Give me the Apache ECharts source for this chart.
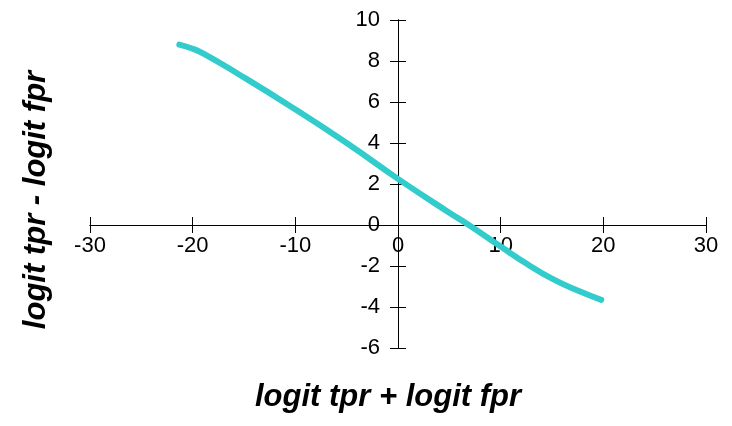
<!DOCTYPE html>
<html>
<head>
<meta charset="utf-8">
<script src="https://cdn.jsdelivr.net/npm/echarts@6/dist/echarts.min.js"></script>
<style>
  html, body { margin: 0; padding: 0; background: #ffffff; }
  #chart { width: 732px; height: 426px; }
</style>
</head>
<body>
<div id="chart"></div>
<script>
// Sum of logits (x) against difference of logits (y) along the curve
const sumLogit  = [-21.3, -20, -18.9, -15.6, -10.6, -5, 0, 5, 6.9, 10, 12.5, 15, 17.5, 19.8];
const diffLogit = [8.8, 8.6, 8.35, 7.38, 5.83, 4.0, 2.25, 0.6, 0, -1.05, -1.88, -2.62, -3.2, -3.65];

const xTitle = 'logit tpr + logit fpr';
const yTitle = 'logit tpr - logit fpr';

const X_MIN = -30, X_MAX = 30, X_STEP = 10;
const Y_MIN = -6, Y_MAX = 10, Y_STEP = 2;

const points = sumLogit.map((x, i) => [x, diffLogit[i]]);

// Plot area
const GRID = { left: 90, top: 20, width: 616, height: 328 };
// Pixel distance of the zero lines from each grid edge
const zeroFromBottom = GRID.height * (0 - Y_MIN) / (Y_MAX - Y_MIN);
const zeroFromTop = GRID.height - zeroFromBottom;
const zeroFromLeft = GRID.width * (0 - X_MIN) / (X_MAX - X_MIN);
const zeroFromRight = GRID.width - zeroFromLeft;

const chart = echarts.init(document.getElementById('chart'), null, { renderer: 'canvas' });

const fontFamily = '"Liberation Sans", Arial, sans-serif';
const lineStyle = { color: '#000000', width: 1 };

// Each axis is drawn twice, from opposite sides, pulled in to the zero line,
// so the two sets of outward ticks form crossing tick marks.
function xAxisDef(position, offset, showLabel) {
  return {
    type: 'value', min: X_MIN, max: X_MAX, interval: X_STEP,
    position, offset,
    axisLine: { show: true, onZero: false, lineStyle },
    axisTick: { show: true, inside: false, length: 8, lineStyle },
    axisLabel: { show: showLabel, color: '#000', fontSize: 22, fontFamily, margin: 10 },
    splitLine: { show: false }
  };
}
function yAxisDef(position, offset, showLabel) {
  return {
    type: 'value', min: Y_MIN, max: Y_MAX, interval: Y_STEP,
    position, offset,
    axisLine: { show: true, onZero: false, lineStyle },
    axisTick: { show: true, inside: false, length: 8, lineStyle },
    axisLabel: { show: showLabel, color: '#000', fontSize: 22, fontFamily, margin: 18 },
    splitLine: { show: false }
  };
}

chart.setOption({
  animation: false,
  backgroundColor: '#ffffff',
  grid: Object.assign({ containLabel: false }, GRID),
  xAxis: [xAxisDef('bottom', -zeroFromBottom, true), xAxisDef('top', -zeroFromTop, false)],
  yAxis: [yAxisDef('left', -zeroFromLeft, true), yAxisDef('right', -zeroFromRight, false)],
  graphic: [
    {
      type: 'text', x: 388, y: 397,
      style: { text: xTitle, fill: '#000', font: 'italic bold 31px ' + fontFamily, align: 'center', verticalAlign: 'middle' }
    },
    {
      type: 'text', x: 36, y: 200, rotation: Math.PI / 2,
      style: { text: yTitle, fill: '#000', font: 'italic bold 31px ' + fontFamily, align: 'center', verticalAlign: 'middle' }
    }
  ],
  series: [{
    type: 'line',
    xAxisIndex: 0, yAxisIndex: 0,
    data: points,
    smooth: true,
    showSymbol: false,
    symbol: 'none',
    lineStyle: { color: '#33cccc', width: 6, cap: 'round' }
  }]
});
</script>
</body>
</html>
